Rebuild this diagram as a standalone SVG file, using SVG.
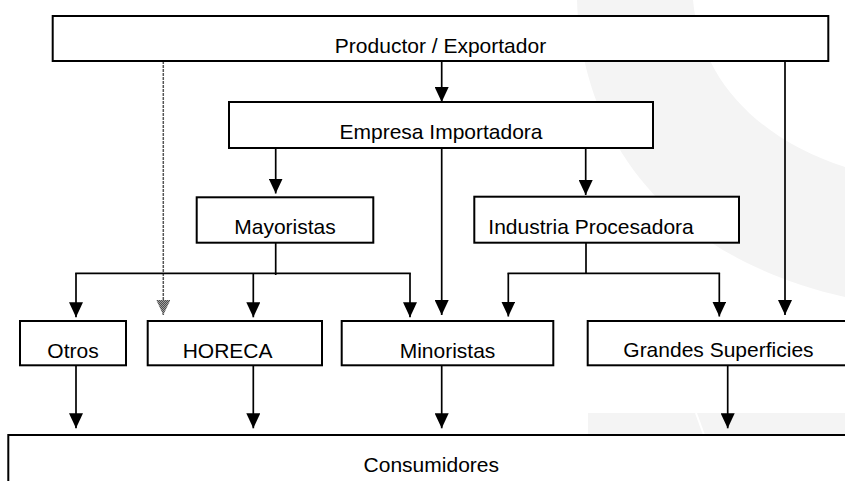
<svg xmlns="http://www.w3.org/2000/svg" width="845" height="481" viewBox="0 0 845 481">
<style>
.box{fill:#fff;stroke:#000;stroke-width:2}
.lbl{font-family:"Liberation Sans",Arial,sans-serif;font-size:21px;fill:#000}
.c{text-anchor:middle}
.ln{fill:none;stroke:#000;stroke-width:1.7}
.ar{fill:none;stroke:#000;stroke-width:1.7;marker-end:url(#ah)}
.wm{fill:#f4f4f4}
</style>
<defs>
<marker id="ah" viewBox="0 0 15 14" refX="15" refY="7" markerWidth="15" markerHeight="14" markerUnits="userSpaceOnUse" orient="auto">
<path d="M0,0 L15,7 L0,14 z" fill="#000"/>
</marker>
<pattern id="dither" width="2" height="2" patternUnits="userSpaceOnUse">
<rect width="2" height="2" fill="#ddd"/>
<rect width="1" height="1" fill="#111"/>
<rect x="1" y="1" width="1" height="1" fill="#111"/>
</pattern>
<marker id="ahd" viewBox="0 0 15 14" refX="15" refY="7" markerWidth="15" markerHeight="14" markerUnits="userSpaceOnUse" orient="auto">
<path d="M0,0 L15,7 L0,14 z" fill="url(#dither)"/>
</marker>
</defs>
<g id="watermark">
<path class="wm" d="M577,0 C580,110 640,250 845,297 L845,167 C760,140 700,80 693,0 Z"/>
<rect class="wm" x="588" y="413" width="257" height="22"/>
<line x1="696" y1="413" x2="704" y2="435" stroke="#fff" stroke-width="2"/>
</g>
<g id="connectors">
<line class="ar" x1="441.7" y1="61" x2="441.7" y2="102"/>
<line class="ar" x1="785" y1="61" x2="785" y2="315"/>
<line x1="163.3" y1="61" x2="163.3" y2="315" stroke="#555" stroke-width="1.5" stroke-dasharray="3 1" marker-end="url(#ahd)"/>
<line class="ar" x1="275.7" y1="148" x2="275.7" y2="193.5"/>
<line class="ar" x1="441.7" y1="148" x2="441.7" y2="315"/>
<line class="ar" x1="585.7" y1="148" x2="585.7" y2="195"/>
<line class="ln" x1="275.7" y1="243" x2="275.7" y2="275"/>
<line class="ln" x1="75.2" y1="273.3" x2="410.8" y2="273.3"/>
<line class="ar" x1="76" y1="273.3" x2="76" y2="317.3"/>
<line class="ar" x1="253.3" y1="273.3" x2="253.3" y2="317.3"/>
<line class="ar" x1="410" y1="273.3" x2="410" y2="317.3"/>
<line class="ln" x1="586" y1="243" x2="586" y2="273.3"/>
<line class="ln" x1="507.5" y1="273.3" x2="720.1" y2="273.3"/>
<line class="ar" x1="508.3" y1="273.3" x2="508.3" y2="316.5"/>
<line class="ar" x1="719.3" y1="273.3" x2="719.3" y2="316.5"/>
<line class="ar" x1="76" y1="366" x2="76" y2="428.3"/>
<line class="ar" x1="253.3" y1="366" x2="253.3" y2="428.3"/>
<line class="ar" x1="441.7" y1="366" x2="441.7" y2="428.3"/>
<line class="ar" x1="727.7" y1="366" x2="727.7" y2="428.3"/>
</g>
<g id="productor">
<rect class="box" x="52.7" y="16" width="775.6" height="45"/>
<text class="lbl c" x="440.5" y="53.3">Productor / Exportador</text>
</g>
<g id="empresa">
<rect class="box" x="229" y="102" width="424" height="46"/>
<text class="lbl c" x="441" y="139">Empresa Importadora</text>
</g>
<g id="mayoristas">
<rect class="box" x="196.7" y="197.3" width="176.6" height="45.4"/>
<text class="lbl c" x="285" y="234">Mayoristas</text>
</g>
<g id="industria">
<rect class="box" x="474.3" y="196.7" width="264.7" height="46"/>
<text class="lbl" x="488.3" y="234">Industria Procesadora</text>
</g>
<g id="otros">
<rect class="box" x="20" y="321" width="106" height="44.3"/>
<text class="lbl c" x="73" y="357.7">Otros</text>
</g>
<g id="horeca">
<rect class="box" x="147.7" y="321" width="174.3" height="44.3"/>
<text class="lbl" x="182.7" y="357.7">HORECA</text>
</g>
<g id="minoristas">
<rect class="box" x="341.7" y="321" width="211.6" height="44.3"/>
<text class="lbl c" x="447.5" y="357.7">Minoristas</text>
</g>
<g id="grandes">
<rect class="box" x="587.7" y="321" width="300" height="44.3"/>
<text class="lbl" x="623.3" y="357.3">Grandes Superficies</text>
</g>
<g id="consumidores">
<rect class="box" x="8.3" y="435" width="900" height="100"/>
<text class="lbl c" x="431.3" y="471.7">Consumidores</text>
</g>
</svg>
